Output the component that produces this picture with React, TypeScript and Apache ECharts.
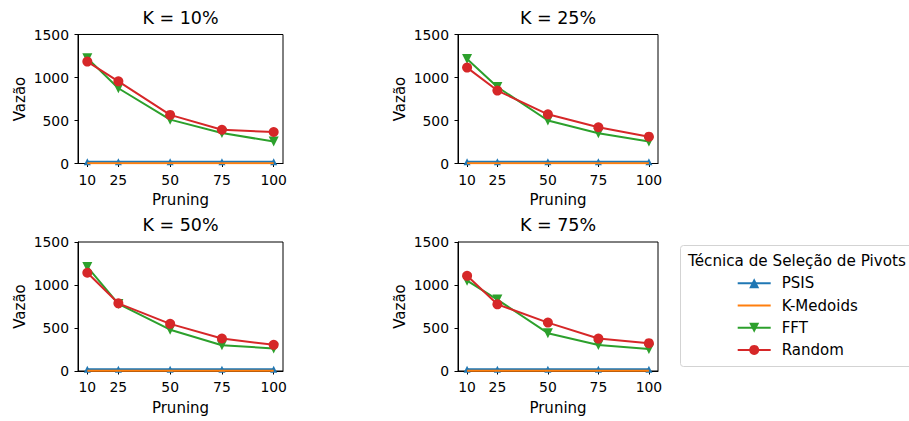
import React, { useEffect, useRef } from 'react';
import * as echarts from 'echarts';

const pruning = [10, 25, 50, 75, 100];
const panelTitles = ['K = 10%', 'K = 25%', 'K = 50%', 'K = 75%'];
const seriesNames = ['PSIS', 'K-Medoids', 'FFT', 'Random'];
const yTicks = [0, 500, 1000, 1500];
const legendTitle = 'Técnica de Seleção de Pivots';

const psisK10 = [20, 20, 20, 20, 20];
const kmedoidsK10 = [3, 3, 3, 3, 3];
const fftK10 = [1225, 875, 510, 355, 255];
const randomK10 = [1185, 955, 565, 392, 366];

const psisK25 = [20, 20, 20, 20, 20];
const kmedoidsK25 = [3, 3, 3, 3, 3];
const fftK25 = [1215, 890, 500, 352, 255];
const randomK25 = [1115, 848, 572, 422, 312];

const psisK50 = [20, 20, 20, 20, 20];
const kmedoidsK50 = [3, 3, 3, 3, 3];
const fftK50 = [1210, 780, 480, 300, 262];
const randomK50 = [1142, 787, 548, 378, 304];

const psisK75 = [20, 20, 20, 20, 20];
const kmedoidsK75 = [3, 3, 3, 3, 3];
const fftK75 = [1050, 830, 440, 302, 255];
const randomK75 = [1107, 775, 563, 377, 324];

const panelData = [
  [psisK10, kmedoidsK10, fftK10, randomK10],
  [psisK25, kmedoidsK25, fftK25, randomK25],
  [psisK50, kmedoidsK50, fftK50, randomK50],
  [psisK75, kmedoidsK75, fftK75, randomK75],
];

const FONT = 'DejaVu Sans';
const colors = ['#1f77b4', '#ff7f0e', '#2ca02c', '#d62728'];
const symbols = ['triangle', 'none', 'triangle', 'circle'];
const symbolSizes = [7, 0, 10, 10];
const symbolRotates = [0, 0, 180, 0];

const grids = [
  { left: 78, top: 34.5, width: 205, height: 129 },
  { left: 458, top: 34.5, width: 200, height: 129 },
  { left: 78, top: 242, width: 205, height: 129 },
  { left: 458, top: 242, width: 200, height: 129 },
];

export default function App() {
  const ref = useRef<HTMLDivElement>(null);
  useEffect(() => {
    if (!ref.current) return;
    const chart = echarts.init(ref.current, null, { renderer: 'svg' });

    const series: any[] = [];
    panelData.forEach((panel, i) => {
      panel.forEach((vals, s) => {
        series.push({
          name: seriesNames[s],
          type: 'line',
          xAxisIndex: i,
          yAxisIndex: i,
          data: pruning.map((x, k) => [x, vals[k]]),
          symbol: symbols[s],
          symbolSize: symbolSizes[s],
          symbolRotate: symbolRotates[s],
          showSymbol: symbols[s] !== 'none',
          color: colors[s],
          itemStyle: { color: colors[s], opacity: 1 },
          lineStyle: { color: colors[s], width: 2 },
          z: 2 + s,
          silent: true,
          emphasis: { disabled: true },
        });
      });
    });

    const option: any = {
      animation: false,
      backgroundColor: '#ffffff',
      textStyle: { fontFamily: FONT },
      title: grids.map((g, i) => ({
        text: panelTitles[i],
        left: g.left + g.width / 2,
        top: i >= 2 ? 216 : 8.5,
        textAlign: 'center',
        padding: 0,
        textStyle: { fontFamily: FONT, fontSize: 17.5, fontWeight: 'normal', color: '#000' },
      })),
      grid: grids.map((g) => ({ ...g, show: true, borderColor: '#000', borderWidth: 1, backgroundColor: 'transparent' })),
      xAxis: grids.map((_, i) => ({
        type: 'value',
        gridIndex: i,
        min: 5.5,
        max: 104.5,
        name: 'Pruning',
        nameLocation: 'middle',
        nameGap: 29,
        nameTextStyle: { fontFamily: FONT, fontSize: 15, color: '#000' },
        axisLine: { show: true, lineStyle: { color: '#000', width: 1 } },
        axisTick: { show: true, inside: false, length: 3.5, customValues: pruning, lineStyle: { color: '#000' } },
        axisLabel: { customValues: pruning, margin: 9, fontFamily: FONT, fontSize: 13.9, color: '#000' },
        splitLine: { show: false },
      })),
      yAxis: grids.map((_, i) => ({
        type: 'value',
        gridIndex: i,
        min: 0,
        max: 1500,
        interval: 500,
        name: 'Vazão',
        nameLocation: 'middle',
        nameGap: 51,
        nameTextStyle: { fontFamily: FONT, fontSize: 15, color: '#000' },
        axisLine: { show: true, lineStyle: { color: '#000', width: 1 } },
        axisTick: { show: true, inside: false, length: 3.5, lineStyle: { color: '#000' } },
        axisLabel: {
          margin: 9,
          fontFamily: FONT,
          fontSize: 13.9,
          color: '#000',
          formatter: (v: number) => (yTicks.includes(v) ? String(v) : ''),
        },
        splitLine: { show: false },
      })),
      legend: {
        data: seriesNames.map((n, s) =>
          s === 1 ? { name: n, itemStyle: { opacity: 0 } } : { name: n }
        ),
        orient: 'vertical',
        left: 736.7,
        top: 275.8,
        padding: 0,
        itemWidth: 33,
        itemHeight: 12.5,
        itemGap: 7.2,
        selectedMode: false,
        z: 10,
        textStyle: { fontFamily: FONT, fontSize: 15, color: '#000', padding: [0, 0, 0, 6] },
      },
      graphic: [
        {
          type: 'rect',
          z: 1,
          shape: { x: 680.5, y: 245.5, width: 240, height: 121, r: 3 },
          style: { fill: '#fff', stroke: '#d3d3d3', lineWidth: 1 },
        },
        {
          type: 'text',
          z: 2,
          x: 688,
          y: 260.7,
          style: {
            text: legendTitle,
            fontFamily: FONT,
            fontSize: 15.2,
            fill: '#000',
            verticalAlign: 'middle',
            align: 'left',
          },
        },
      ],
      series,
    };

    chart.setOption(option);
    return () => chart.dispose();
  }, []);

  return (
    <div
      ref={ref}
      style={{ position: 'fixed', left: 0, top: 0, width: 909, height: 421, background: '#fff' }}
    />
  );
}
